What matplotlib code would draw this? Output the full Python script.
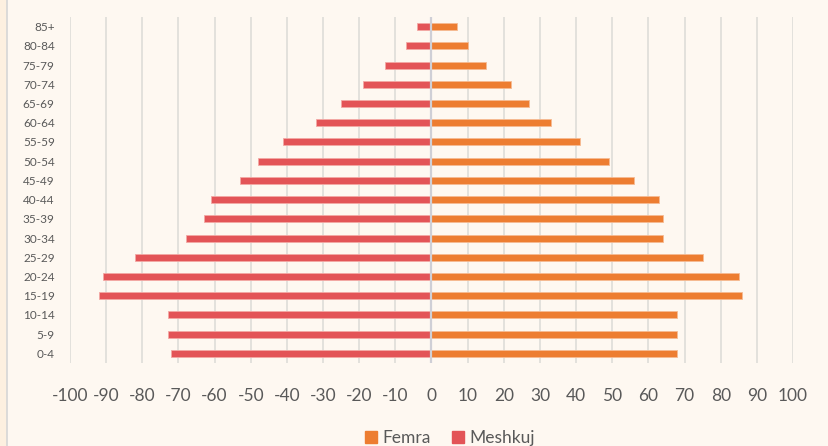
import matplotlib.pyplot as plt
from matplotlib.patches import Rectangle, Patch
from matplotlib.lines import Line2D

# age groups, bottom to top
ages = ['0-4', '5-9', '10-14', '15-19', '20-24', '25-29', '30-34', '35-39', '40-44',
        '45-49', '50-54', '55-59', '60-64', '65-69', '70-74', '75-79', '80-84', '85+']
femra = [68, 68, 68, 86, 85, 75, 64, 64, 63, 56, 49, 41, 33, 27, 22, 15, 10, 7]
meshkuj = [72, 73, 73, 92, 91, 82, 68, 63, 61, 53, 48, 41, 32, 25, 19, 13, 7, 4]
xticks = list(range(-100, 101, 10))

bg = '#FEF8F1'
c_f = '#ED7D31'
c_m = '#E35457'
txt = '#595959'

plt.rcParams['font.family'] = ['Lato', 'DejaVu Sans']

fig = plt.figure(figsize=(8.29, 4.46), dpi=100)
fig.patch.set_facecolor(bg)
# left border strip
fig.patches.append(Rectangle((0, 0), 7 / 829, 1, transform=fig.transFigure,
                             facecolor='#FDF0E0', edgecolor='none'))
fig.lines.append(Line2D([7.5 / 829, 7.5 / 829], [0, 1], transform=fig.transFigure,
                        color='#D6D6D6', lw=1.2))

ax = fig.add_axes([70 / 829, 1 - 363 / 446, 723 / 829, 346 / 446])
ax.set_facecolor(bg)

y = list(range(len(ages)))
ax.barh(y, [-v for v in meshkuj], height=0.36, color=c_m, edgecolor='#F3A9A5',
        linewidth=0.6, zorder=2)
ax.barh(y, femra, height=0.36, color=c_f, edgecolor='#F6BB93',
        linewidth=0.6, zorder=2)

ax.set_xlim(-100, 100)
ax.set_ylim(-0.5, len(ages) - 0.5)
ax.set_xticks(xticks)
ax.set_xticklabels([str(t) for t in xticks], fontsize=12.5, color=txt)
ax.set_yticks(y)
ax.set_yticklabels(ages, fontsize=8.5, color=txt)
ax.tick_params(axis='both', length=0)
ax.tick_params(axis='x', pad=18)
ax.tick_params(axis='y', pad=11)

ax.grid(axis='x', color='#DCDAD6', lw=1.1, zorder=0)
ax.axvline(0, color='#CFCFD6', lw=1.6, zorder=3)
for s in ax.spines.values():
    s.set_visible(False)

handles = [Patch(color=c_f, label='Femra'), Patch(color=c_m, label='Meshkuj')]
leg = fig.legend(handles=handles, loc='center', bbox_to_anchor=(450 / 829, 1 - 438 / 446),
                 ncol=2, frameon=False, fontsize=12.5, handlelength=0.7, handleheight=0.7,
                 handletextpad=0.3, columnspacing=1.2)
for t in leg.get_texts():
    t.set_color(txt)

fig.savefig('out.png', dpi=100, facecolor=bg)
